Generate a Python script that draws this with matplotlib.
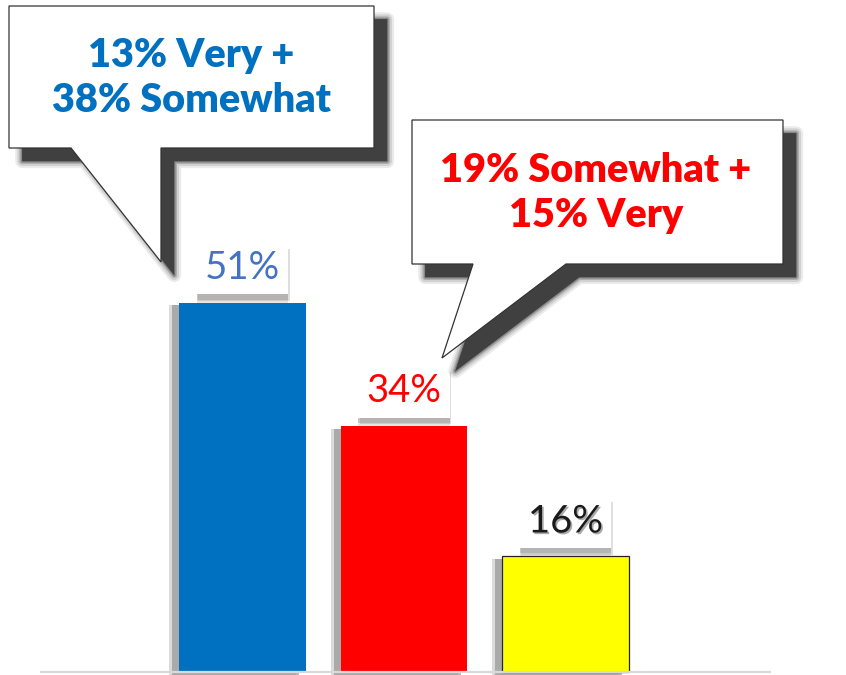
import matplotlib
matplotlib.use('Agg')
import matplotlib.pyplot as plt
from matplotlib.patches import Polygon
import matplotlib.patheffects as pe
from matplotlib.transforms import offset_copy

# ---- data ----
categories = ['A', 'B', 'C']
values = [51, 34, 16]
value_labels = ['51%', '34%', '16%']
bar_colors = ['#0070C0', '#FF0000', '#FFFF00']
label_colors = ['#4472C4', '#FF0000', '#1A1A1A']
callout_texts = ['13% Very +\n38% Somewhat', '19% Somewhat +\n15% Very']
callout_colors = ['#0070C0', '#FF0000']

W, H = 846, 675
fig = plt.figure(figsize=(W / 100, H / 100), dpi=100)
ax = fig.add_axes([0, 0, 1, 1])
ax.set_xlim(-1.5015, 3.737)
ax.set_ylim(-0.414, 92.8)
ax.axis('off')

x = list(range(len(values)))
bars = ax.bar(x, values, width=0.786, color=bar_colors, zorder=3)
bars[2].set_edgecolor('#222222')
bars[2].set_linewidth(0.9)
for b in bars:
    b.set_path_effects([
        pe.SimplePatchShadow(offset=(-7, -2), shadow_rgbFace='#8a8a8a', alpha=0.3),
        pe.SimplePatchShadow(offset=(-5, -2), shadow_rgbFace='#8a8a8a', alpha=0.6),
        pe.Normal()])

ax.plot([-1.254, 3.27], [0, 0], color='#D9D9D9', lw=1.6, zorder=4, solid_capstyle='butt')

for xi, v, lab, col in zip(x, values, value_labels, label_colors):
    t = ax.annotate(lab, xy=(xi, v), xytext=(0, 12), textcoords='offset points',
                    ha='center', va='bottom', fontsize=27.5, family='Lato', color=col,
                    bbox=dict(boxstyle='square,pad=0.22', fc='white', ec='none'), zorder=5)
    t.get_bbox_patch().set_path_effects([
        pe.SimplePatchShadow(offset=(0, 0), shadow_rgbFace='#b0b0b0', alpha=0.15),
        pe.SimplePatchShadow(offset=(0, -6), shadow_rgbFace='#808080', alpha=0.2),
        pe.SimplePatchShadow(offset=(1, -5), shadow_rgbFace='#808080', alpha=0.25),
        pe.SimplePatchShadow(offset=(0, -4), shadow_rgbFace='#808080', alpha=0.3),
        pe.Normal()])
    if lab == '16%':
        t.set_path_effects([pe.SimplePatchShadow(offset=(1.2, -1.2), shadow_rgbFace='#555555', alpha=0.5), pe.Normal()])

# ---- callouts (layout in pixel coords) ----
ax2 = fig.add_axes([0, 0, 1, 1], zorder=10)
ax2.set_xlim(0, W)
ax2.set_ylim(H, 0)
ax2.axis('off')
ax2.patch.set_visible(False)

callout_shapes = [
    [(9, 6), (374, 6), (374, 148), (161, 148), (161, 262), (71, 148), (9, 148)],
    [(412, 120), (783, 120), (783, 264), (566, 264), (442, 358), (473, 264), (412, 264)],
]
callout_centers = [(191, 78), (596, 193)]

shadow_tr = offset_copy(ax2.transData, fig=fig, x=9.5, y=-9.5, units='points')
for verts, txt, col, (cx, cy) in zip(callout_shapes, callout_texts, callout_colors, callout_centers):
    for lw, a in [(10, 0.1), (7, 0.15), (4, 0.25), (2, 0.35)]:
        ax2.add_patch(Polygon(verts, closed=True, transform=shadow_tr, facecolor='#404040',
                              edgecolor='#404040', linewidth=lw, alpha=a, joinstyle='round'))
    ax2.add_patch(Polygon(verts, closed=True, transform=shadow_tr, facecolor='#404040',
                          edgecolor='none', alpha=1.0))
    ax2.add_patch(Polygon(verts, closed=True, facecolor='white', edgecolor='#333333', linewidth=0.9))
    ax2.text(cx, cy, txt, ha='center', va='center', fontsize=28.5, fontweight='heavy',
             family='Lato', color=col, linespacing=1.28)

fig.savefig('out.png', dpi=100)
